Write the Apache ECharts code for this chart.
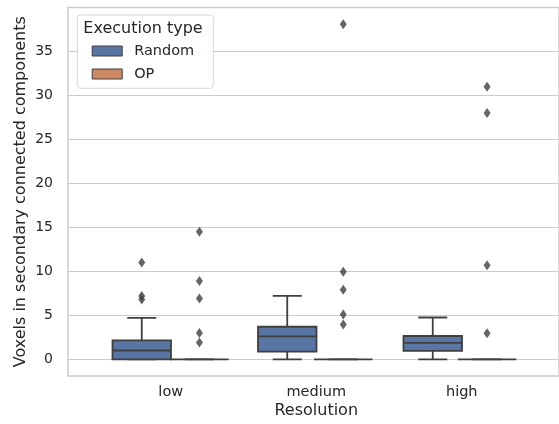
<!DOCTYPE html>
<html>
<head>
<meta charset="utf-8">
<script src="https://cdn.jsdelivr.net/npm/echarts@6/dist/echarts.min.js"></script>
<style>html,body{margin:0;padding:0;background:#fff;}#c{width:559px;height:424px;}</style>
</head>
<body>
<div id="c"></div>
<script>
var categories = ['low', 'medium', 'high'];
var yTicks = [0, 5, 10, 15, 20, 25, 30, 35];
// [min whisker, Q1, median, Q3, max whisker]
var randomStats = [
  [0, 0, 1.0, 2.15, 4.7],
  [0, 0.87, 2.6, 3.7, 7.2],
  [0, 0.95, 1.86, 2.65, 4.75]
];
var opStats = [
  [0, 0, 0, 0, 0],
  [0, 0, 0, 0, 0],
  [0, 0, 0, 0, 0]
];
var randomOutliers = [
  [0, 11.0], [0, 7.2], [0, 6.8]
];
var opOutliers = [
  [0, 14.5], [0, 8.9], [0, 6.9], [0, 3.0], [0, 1.9],
  [1, 38.1], [1, 9.95], [1, 7.9], [1, 5.1], [1, 3.95],
  [2, 31.0], [2, 28.0], [2, 10.7], [2, 2.95]
];

var TXT = '#262626', LINE = '#3f3f3f', GRIDC = '#cccccc';
var BLUE = '#5975a4', ORANGE = '#cc8963';
var FONT = 'DejaVu Sans';
var YMIN = -1.9, YMAX = 40;

function whiskers(stats) { return stats.map(function (s) { return [s[0], s[2], s[2], s[2], s[4]]; }); }
function boxes(stats) { return stats.map(function (s) { return [s[1], s[1], s[2], s[3], s[3]]; }); }

function hiddenY(i) {
  return { type: 'value', gridIndex: i, min: YMIN, max: YMAX, show: false, splitLine: { show: false } };
}
function hiddenX(i) {
  return { type: 'category', gridIndex: i, data: categories, show: false, axisTick: { show: false }, splitLine: { show: false } };
}

var chart = echarts.init(document.getElementById('c'), null, { renderer: 'canvas' });
chart.setOption({
  animation: false,
  textStyle: { fontFamily: FONT, color: TXT },
  grid: [
    { left: 68, right: -20, top: 7.5, bottom: 48, show: true, borderColor: GRIDC, borderWidth: 1.5 },
    { left: 98, right: 24.5, top: 7.5, bottom: 48 },
    { left: 69, right: 53.5, top: 7.5, bottom: 48 },
    { left: 69, right: 53.5, top: 7.5, bottom: 48 },
    { left: 127.5, right: -5, top: 7.5, bottom: 48 },
    { left: 127.5, right: -5, top: 7.5, bottom: 48 }
  ],
  xAxis: [
    { type: 'value', gridIndex: 0, min: 0, max: 1, show: false, splitLine: { show: false } },
    {
      type: 'category', gridIndex: 1, data: categories,
      axisLine: { show: false }, axisTick: { show: false }, splitLine: { show: false },
      axisLabel: { fontSize: 14.5, color: TXT, margin: 20, fontFamily: FONT },
      name: 'Resolution', nameLocation: 'middle', nameGap: 38, nameMoveOverlap: false,
      nameTextStyle: { fontSize: 16, color: TXT, fontFamily: FONT }
    },
    hiddenX(2), hiddenX(3), hiddenX(4), hiddenX(5)
  ],
  yAxis: [
    {
      type: 'value', gridIndex: 0, min: YMIN, max: YMAX,
      axisLine: { show: false },
      axisTick: { show: false, customValues: yTicks },
      axisLabel: { customValues: yTicks, fontSize: 14, color: TXT, margin: 15, fontFamily: FONT },
      splitLine: { show: true, lineStyle: { color: GRIDC, width: 1 } },
      name: 'Voxels in secondary connected components', nameLocation: 'middle', nameGap: 39,
      nameMoveOverlap: false,
      nameTextStyle: { fontSize: 16, color: TXT, fontFamily: FONT }
    },
    hiddenY(1), hiddenY(2), hiddenY(3), hiddenY(4), hiddenY(5)
  ],
  legend: {
    data: [
      { name: 'Random', itemStyle: { color: BLUE, borderColor: LINE, borderWidth: 1 } },
      { name: 'OP', itemStyle: { color: ORANGE, borderColor: LINE, borderWidth: 1 } }
    ],
    orient: 'vertical', left: 91.7, top: 43, padding: 0,
    icon: 'rect', itemWidth: 30, itemHeight: 10, itemGap: 7,
    textStyle: { fontSize: 14.5, color: TXT, fontFamily: FONT, lineHeight: 16, padding: [0, 0, 0, 7] },
    selectedMode: false, z: 6
  },
  graphic: [
    {
      type: 'rect', z: 4, shape: { x: 77.3, y: 15, width: 136, height: 73.3, r: 3 },
      style: { fill: 'rgba(255,255,255,0.85)', stroke: '#d6d6d6', lineWidth: 1 }
    },
    {
      type: 'text', z: 6, left: 83.3, top: 20.5,
      style: { text: 'Execution type', font: '16px "DejaVu Sans"', fill: TXT }
    }
  ],
  series: [
    {
      name: 'Random whiskers', type: 'boxplot', xAxisIndex: 2, yAxisIndex: 2, z: 2,
      boxWidth: [29, 29], data: whiskers(randomStats),
      itemStyle: { color: BLUE, borderColor: LINE, borderWidth: 1.8 },
      emphasis: { disabled: true }
    },
    {
      name: 'Random', type: 'boxplot', xAxisIndex: 3, yAxisIndex: 3, z: 3,
      boxWidth: [58.5, 58.5], data: boxes(randomStats),
      itemStyle: { color: BLUE, borderColor: LINE, borderWidth: 1.8 },
      emphasis: { disabled: true }
    },
    {
      name: 'OP whiskers', type: 'boxplot', xAxisIndex: 4, yAxisIndex: 4, z: 2,
      boxWidth: [29, 29], data: whiskers(opStats),
      itemStyle: { color: ORANGE, borderColor: LINE, borderWidth: 1.8 },
      emphasis: { disabled: true }
    },
    {
      name: 'OP', type: 'boxplot', xAxisIndex: 5, yAxisIndex: 5, z: 3,
      boxWidth: [58.5, 58.5], data: boxes(opStats),
      itemStyle: { color: ORANGE, borderColor: LINE, borderWidth: 1.8 },
      emphasis: { disabled: true }
    },
    {
      name: 'Random outliers', type: 'scatter', xAxisIndex: 3, yAxisIndex: 3, z: 3,
      symbol: 'diamond', symbolSize: [7, 10], data: randomOutliers,
      itemStyle: { color: LINE }, emphasis: { disabled: true }
    },
    {
      name: 'OP outliers', type: 'scatter', xAxisIndex: 5, yAxisIndex: 5, z: 3,
      symbol: 'diamond', symbolSize: [7, 10], data: opOutliers,
      itemStyle: { color: LINE }, emphasis: { disabled: true }
    }
  ]
});
</script>
</body>
</html>
